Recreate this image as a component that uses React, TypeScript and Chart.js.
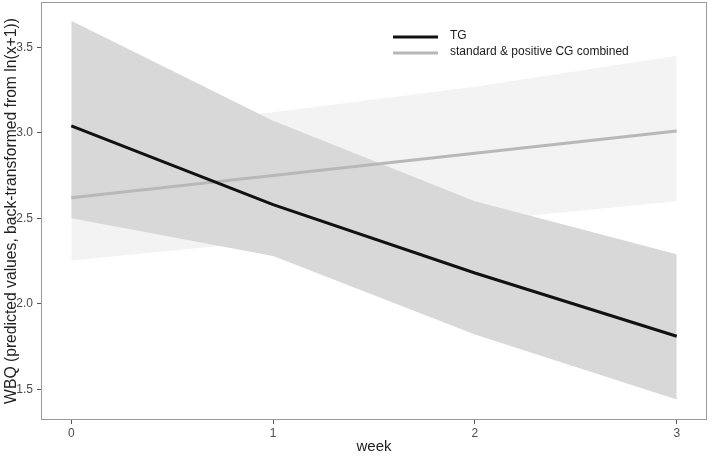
import React, { useEffect, useRef } from "react";
import { Chart, registerables } from "chart.js";

Chart.register(...registerables);

const weeks = [0, 1, 2, 3];
const tgFit = [3.04, 2.58, 2.18, 1.81];
const tgLower = [2.5, 2.28, 1.82, 1.44];
const tgUpper = [3.655, 3.07, 2.6, 2.29];
const cgFit = [2.62, 2.75, 2.88, 3.01];
const cgLower = [2.253, 2.368, 2.484, 2.6];
const cgUpper = [3.0, 3.12, 3.27, 3.45];
const xTicks = [0, 1, 2, 3];
const yTicks = [1.5, 2.0, 2.5, 3.0, 3.5];
const legendLabels = ["TG", "standard & positive CG combined"];

const FONT = "'Liberation Sans', Arial, sans-serif";
const TG_COLOR = "#111111";
const CG_COLOR = "#b8b8b8";

const pts = (ys: number[]) => weeks.map((w, i) => ({ x: w, y: ys[i] }));

const borderAndLegend = {
  id: "borderAndLegend",
  afterDraw(chart: any) {
    const { ctx, chartArea } = chart;
    ctx.save();
    ctx.strokeStyle = "#9a9a9a";
    ctx.lineWidth = 1;
    ctx.strokeRect(
      Math.round(chartArea.left) + 0.5,
      Math.round(chartArea.top) + 0.5,
      Math.round(chartArea.right - chartArea.left) - 1,
      Math.round(chartArea.bottom - chartArea.top) - 1
    );
    const colors = [TG_COLOR, CG_COLOR];
    const ys = [37, 53];
    ctx.font = `12px ${FONT}`;
    ctx.textBaseline = "middle";
    ctx.textAlign = "left";
    legendLabels.forEach((lab, i) => {
      ctx.strokeStyle = colors[i];
      ctx.lineWidth = 3;
      ctx.beginPath();
      ctx.moveTo(393, ys[i]);
      ctx.lineTo(438, ys[i]);
      ctx.stroke();
      ctx.fillStyle = "#1a1a1a";
      ctx.fillText(lab, 450, ys[i] - 1);
    });
    ctx.restore();
  },
};

export default function App() {
  const ref = useRef<HTMLCanvasElement>(null);
  useEffect(() => {
    document.body.style.margin = "0";
    const base = { pointRadius: 0, borderWidth: 0, tension: 0 };
    const chart = new Chart(ref.current!, {
      type: "line",
      data: {
        datasets: [
          { ...base, label: "cgLow", data: pts(cgLower), fill: false, order: 4, borderColor: "transparent" },
          { ...base, label: "cgUp", data: pts(cgUpper), fill: "-1", order: 4, backgroundColor: "#f3f3f3", borderColor: "transparent" },
          { ...base, label: "tgLow", data: pts(tgLower), fill: false, order: 3, borderColor: "transparent" },
          { ...base, label: "tgUp", data: pts(tgUpper), fill: "-1", order: 3, backgroundColor: "#d8d8d8", borderColor: "transparent" },
          { label: "CG", data: pts(cgFit), borderColor: CG_COLOR, borderWidth: 3, pointRadius: 0, fill: false, order: 2 },
          { label: "TG", data: pts(tgFit), borderColor: TG_COLOR, borderWidth: 3, pointRadius: 0, fill: false, order: 1 },
        ] as any,
      },
      options: {
        animation: false,
        responsive: false,
        layout: { padding: { top: 2, right: 2, left: 0, bottom: 0 } },
        plugins: { legend: { display: false }, tooltip: { enabled: false } },
        scales: {
          x: {
            type: "linear",
            min: -0.15,
            max: 3.15,
            afterBuildTicks: (s: any) => { s.ticks = xTicks.map((v) => ({ value: v })); },
            afterFit: (s: any) => { s.height = 36; s.paddingLeft = 0; s.paddingRight = 0; },
            grid: { drawOnChartArea: false, drawTicks: true, tickLength: 4, color: "#555", tickColor: "#555" },
            border: { display: false },
            ticks: { font: { family: FONT, size: 12 }, color: "#4d4d4d", padding: 2, callback: (v: any) => String(v) },
            title: { display: true, text: "week", font: { family: FONT, size: 15 }, color: "#222", padding: { top: 0, bottom: 0 } },
          },
          y: {
            type: "linear",
            min: 1.32,
            max: 3.765,
            afterBuildTicks: (s: any) => { s.ticks = yTicks.map((v) => ({ value: v })); },
            afterFit: (s: any) => { s.width = 41; s.paddingTop = 0; s.paddingBottom = 0; },
            grid: { drawOnChartArea: false, drawTicks: true, tickLength: 4, color: "#555", tickColor: "#555" },
            border: { display: false },
            ticks: { font: { family: FONT, size: 12 }, color: "#4d4d4d", padding: 4, callback: (v: any) => Number(v).toFixed(1) },
            title: { display: true, text: "WBQ (predicted values, back-transformed from ln(x+1))", font: { family: FONT, size: 15.7 }, color: "#222", padding: { top: 2, bottom: 0 } },
          },
        },
      } as any,
      plugins: [borderAndLegend],
    });
    return () => chart.destroy();
  }, []);
  return (
    <div style={{ position: "absolute", left: 0, top: 0, width: 709, height: 456 }}>
      <canvas ref={ref} width={709} height={456} style={{ display: "block" }} />
    </div>
  );
}
